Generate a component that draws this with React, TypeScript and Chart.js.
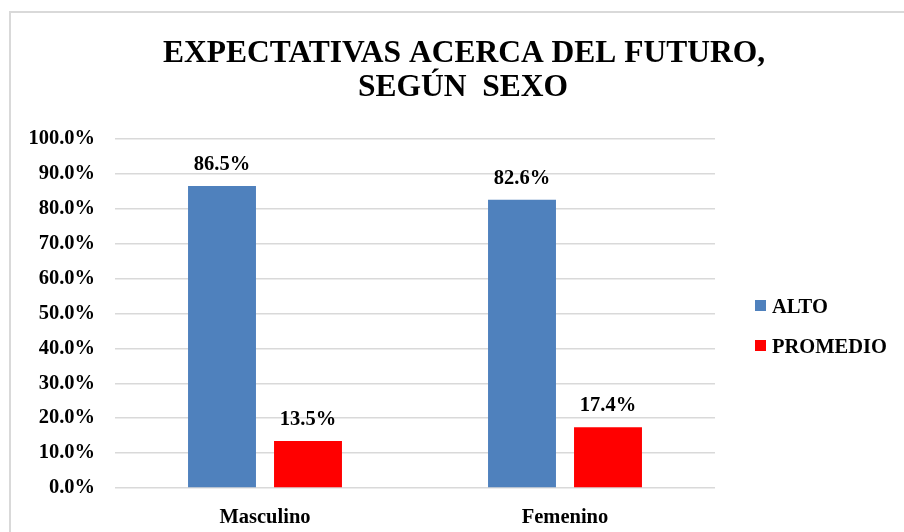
import React, { useEffect, useRef } from "react";
import { Chart, registerables } from "chart.js";

Chart.register(...registerables);

const titleLines = ["EXPECTATIVAS ACERCA DEL FUTURO,", "SEGÚN  SEXO"];
const categories = ["Masculino", "Femenino"];
const seriesNames = ["ALTO", "PROMEDIO"];
const altoValues = [86.5, 82.6];
const promedioValues = [13.5, 17.4];
const seriesColors = ["#4F81BD", "#FF0000"];

const SERIF = "'Liberation Serif', 'Times New Roman', serif";

const titlePlugin = {
  id: "customTitle",
  afterDraw(chart: any) {
    const ctx = chart.ctx;
    ctx.save();
    ctx.fillStyle = "#000";
    ctx.font = `bold 31.5px ${SERIF}`;
    ctx.textAlign = "center";
    ctx.textBaseline = "alphabetic";
    ctx.fillText(titleLines[0], 464, 62);
    ctx.fillText(titleLines[1], 463, 96);
    ctx.restore();
  },
};

const legendPlugin = {
  id: "customLegend",
  afterDraw(chart: any) {
    const ctx = chart.ctx;
    ctx.save();
    ctx.font = `bold 20.5px ${SERIF}`;
    ctx.textAlign = "left";
    ctx.textBaseline = "alphabetic";
    chart.data.datasets.forEach((ds: any, i: number) => {
      const baseY = 313 + i * 40;
      ctx.fillStyle = ds.backgroundColor;
      ctx.fillRect(755, baseY - 13, 11, 11);
      ctx.fillStyle = "#000";
      ctx.fillText(ds.label, 772, baseY);
    });
    ctx.restore();
  },
};

const valueLabelPlugin = {
  id: "valueLabels",
  afterDatasetsDraw(chart: any) {
    const ctx = chart.ctx;
    ctx.save();
    ctx.font = `bold 20.5px ${SERIF}`;
    ctx.fillStyle = "#000";
    ctx.textAlign = "center";
    ctx.textBaseline = "alphabetic";
    chart.data.datasets.forEach((ds: any, di: number) => {
      const meta = chart.getDatasetMeta(di);
      meta.data.forEach((el: any, i: number) => {
        ctx.fillText(ds.data[i].toFixed(1) + "%", el.x, el.y - 16);
      });
    });
    ctx.restore();
  },
};

export default function App() {
  const ref = useRef<HTMLCanvasElement | null>(null);
  useEffect(() => {
    if (!ref.current) return;
    const chart = new Chart(ref.current, {
      type: "bar",
      data: {
        labels: categories,
        datasets: [
          {
            label: seriesNames[0],
            data: altoValues,
            backgroundColor: seriesColors[0],
            barPercentage: 0.79,
            categoryPercentage: 0.5733,
          },
          {
            label: seriesNames[1],
            data: promedioValues,
            backgroundColor: seriesColors[1],
            barPercentage: 0.79,
            categoryPercentage: 0.5733,
          },
        ],
      },
      options: {
        animation: false,
        responsive: false,
        maintainAspectRatio: false,
        layout: { padding: { top: 139, left: 0, right: 189, bottom: 0 } },
        plugins: {
          legend: { display: false },
          title: { display: false },
          tooltip: { enabled: false },
        },
        scales: {
          x: {
            grid: { display: false, drawTicks: false },
            border: { display: false },
            ticks: {
              color: "#000",
              font: { family: SERIF, size: 20.5, weight: "bold" },
              padding: 17,
            },
            afterFit(scale: any) {
              scale.height = 44;
            },
          },
          y: {
            min: 0,
            max: 100,
            grid: { color: "#d9d9d9", lineWidth: 1.5, drawTicks: false },
            border: { display: false },
            ticks: {
              stepSize: 10,
              color: "#000",
              font: { family: SERIF, size: 20.5, weight: "bold" },
              padding: 20,
              callback: (v: any) => Number(v).toFixed(1) + "%",
            },
            afterFit(scale: any) {
              scale.width = 115;
            },
          },
        },
      },
      plugins: [titlePlugin, legendPlugin, valueLabelPlugin],
    });
    return () => chart.destroy();
  }, []);

  return (
    <div style={{ position: "fixed", left: 0, top: 0, width: 904, height: 532, background: "#fff", overflow: "hidden" }}>
      <div
        style={{
          position: "absolute",
          left: 9,
          top: 11,
          width: 920,
          height: 540,
          border: "2px solid #d9d9d9",
          boxSizing: "border-box",
        }}
      />
      <canvas ref={ref} width={904} height={532} style={{ position: "absolute", left: 0, top: 0 }} />
    </div>
  );
}
